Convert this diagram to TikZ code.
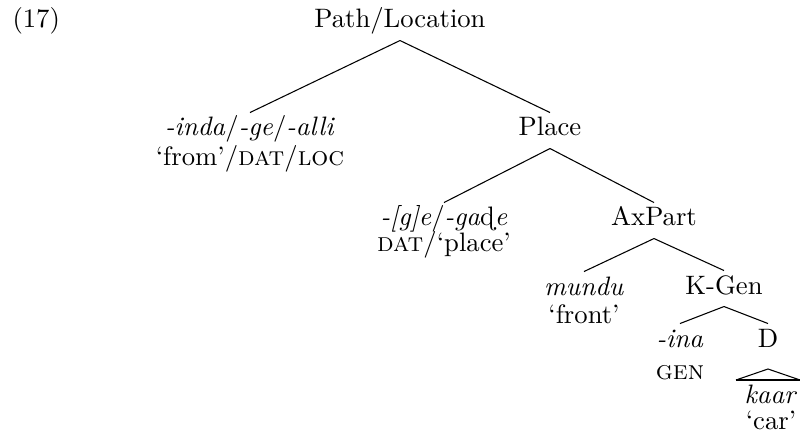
\documentclass[tikz,border=0pt]{standalone}
\usepackage{tipa}
\begin{document}
\begin{tikzpicture}[x=0.375pt,y=-0.375pt,
  cat/.style={inner sep=0pt, text height=8.6pt, text depth=4.5pt, anchor=base},
  gloss/.style={inner sep=0pt, anchor=base},
  branch/.style={line width=0.4pt}]
  \useasboundingbox (0,0) rectangle (800,442);

  % example number
  \node[gloss, anchor=base west] (exnum) at (12,28) {(17)};

  % tree nodes
  \node[cat] (path)  at (400,28)  {Path/Location};
  \node[cat] (inda)  at (250,136) {\textit{-inda}/\textit{-ge}/\textit{-alli}};
  \node[gloss] (indagl) at (250,165) {`from'/\textsc{dat}/\textsc{loc}};
  \node[cat] (place) at (550,136) {Place};
  \node[cat] (gade)  at (444,226) {\textit{-[g]e}/\textit{-ga\textrtaild e}};
  \node[gloss] (gadegl) at (444,252) {\textsc{dat}/`place'};
  \node[cat] (axpart) at (654,226) {AxPart};
  \node[cat] (mundu) at (584,295) {\textit{mundu}};
  \node[gloss] (mundugl) at (584,323) {`front'};
  \node[cat] (kgen)  at (724,294) {K-Gen};
  \node[cat] (ina)   at (680,347) {\textit{-ina}};
  \node[gloss] (inagl) at (680,380) {\textsc{gen}};
  \node[cat] (d)     at (768,347) {D};
  \node[cat] (kaar)  at (771,403) {\textit{kaar}};
  \node[gloss] (kaargl) at (771,429) {`car'};

  % branches
  \draw[branch] (path.south) -- (inda.north);
  \draw[branch] (path.south) -- (place.north);
  \draw[branch] (place.south) -- (gade.north);
  \draw[branch] (place.south) -- (axpart.north);
  \draw[branch] (axpart.south) -- (mundu.north);
  \draw[branch] (axpart.south) -- (kgen.north);
  \draw[branch] (kgen.south) -- (ina.north);
  \draw[branch] (kgen.south) -- (d.north);

  % roof over the phrase under D
  \coordinate (roofapex) at (768,369);
  \coordinate (roofleft) at (736,380);
  \coordinate (roofright) at (800,380);
  \draw[branch] (roofleft) -- (roofapex) -- (roofright);
  \draw[line width=0.7pt] (roofleft) -- (roofright);
\end{tikzpicture}
\end{document}
